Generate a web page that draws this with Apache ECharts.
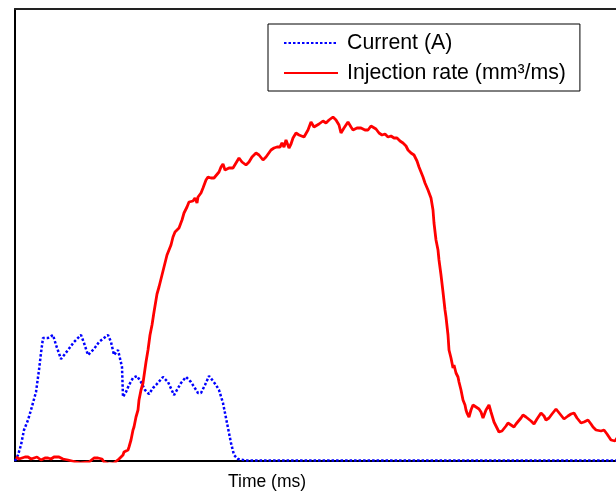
<!DOCTYPE html>
<html>
<head>
<meta charset="utf-8">
<script src="https://cdn.jsdelivr.net/npm/echarts@6/dist/echarts.min.js"></script>
<style>
  html, body { margin: 0; padding: 0; background: #fff; }
  #chart { width: 616px; height: 492px; }
</style>
</head>
<body>
<div id="chart"></div>
<script>
// Solenoid current (A) over time (ms)
const currentTime = [0, 0.03, 0.06, 0.09, 0.13, 0.16, 0.21, 0.24, 0.26, 0.28, 0.33, 0.38, 0.41, 0.46, 0.53, 0.59, 0.66, 0.69, 0.73, 0.79, 0.84, 0.89, 0.93, 0.96, 0.99, 1.03, 1.05, 1.07, 1.08, 1.11, 1.14, 1.18, 1.22, 1.26, 1.30, 1.34, 1.38, 1.41, 1.48, 1.53, 1.59, 1.66, 1.71, 1.76, 1.83, 1.86, 1.90, 1.94, 1.98, 2.01, 2.04, 2.08, 2.11, 2.13, 2.16, 2.19, 2.23, 2.31, 6.2];
const currentValues = [0, 0.6, 1.6, 3.1, 4.1, 5.1, 6.9, 9.1, 10.8, 12.3, 12.3, 12.6, 11.6, 10.2, 11.1, 11.9, 12.6, 11.8, 10.6, 11.2, 11.9, 12.3, 12.6, 11.9, 10.6, 11.1, 11.3, 9.4, 6.4, 6.9, 7.6, 8.3, 8.5, 7.9, 7.1, 6.7, 7.3, 7.6, 8.4, 7.9, 6.6, 7.8, 8.4, 7.9, 6.8, 6.8, 7.6, 8.5, 8.0, 7.6, 7.1, 5.8, 4.3, 3.3, 1.8, 0.6, 0.2, 0.05, 0.05];

// Measured injection rate (mm³/ms) over time (ms)
const rateTime = [0.01, 0.04, 0.06, 0.10, 0.13, 0.16, 0.19, 0.22, 0.24, 0.26, 0.28, 0.30, 0.33, 0.36, 0.39, 0.44, 0.48, 0.53, 0.57, 0.61, 0.66, 0.74, 0.76, 0.79, 0.81, 0.83, 0.85, 0.87, 0.89, 0.94, 0.99, 1.01, 1.04, 1.06, 1.08, 1.09, 1.11, 1.13, 1.14, 1.16, 1.18, 1.19, 1.21, 1.23, 1.24, 1.26, 1.28, 1.31, 1.33, 1.35, 1.37, 1.39, 1.42, 1.44, 1.46, 1.49, 1.52, 1.54, 1.56, 1.58, 1.60, 1.62, 1.64, 1.67, 1.69, 1.72, 1.74, 1.76, 1.78, 1.80, 1.82, 1.83, 1.86, 1.88, 1.91, 1.93, 1.96, 1.99, 2.01, 2.04, 2.06, 2.08, 2.10, 2.11, 2.14, 2.18, 2.21, 2.24, 2.27, 2.31, 2.34, 2.37, 2.41, 2.44, 2.48, 2.51, 2.53, 2.56, 2.59, 2.62, 2.65, 2.67, 2.69, 2.71, 2.74, 2.76, 2.78, 2.81, 2.84, 2.86, 2.89, 2.91, 2.93, 2.96, 2.99, 3.01, 3.04, 3.08, 3.11, 3.14, 3.18, 3.21, 3.24, 3.26, 3.29, 3.33, 3.36, 3.38, 3.42, 3.46, 3.50, 3.53, 3.56, 3.58, 3.61, 3.64, 3.67, 3.70, 3.73, 3.76, 3.79, 3.82, 3.85, 3.88, 3.91, 3.93, 3.96, 3.99, 4.02, 4.04, 4.06, 4.08, 4.10, 4.13, 4.16, 4.18, 4.19, 4.21, 4.23, 4.24, 4.26, 4.28, 4.30, 4.31, 4.33, 4.34, 4.36, 4.38, 4.39, 4.41, 4.43, 4.44, 4.46, 4.48, 4.50, 4.51, 4.52, 4.54, 4.56, 4.58, 4.61, 4.64, 4.66, 4.68, 4.71, 4.74, 4.76, 4.79, 4.82, 4.84, 4.87, 4.89, 4.91, 4.93, 4.96, 4.99, 5.01, 5.03, 5.06, 5.08, 5.11, 5.13, 5.16, 5.19, 5.22, 5.26, 5.29, 5.31, 5.34, 5.37, 5.41, 5.45, 5.49, 5.53, 5.56, 5.59, 5.62, 5.66, 5.69, 5.73, 5.76, 5.78, 5.81, 5.83, 5.86, 5.89, 5.92, 5.94, 5.96, 5.98, 6.00, 6.02];
const rateValues = [0.4, 0.2, 0.3, 0.4, 0.4, 0.2, 0.3, 0.4, 0.4, 0.1, 0.1, 0.3, 0.3, 0.2, 0.4, 0.4, 0.2, 0.1, 0, -0.1, -0.2, -0.1, -0.05, 0.3, 0.4, 0.3, 0.5, 0.2, -0.1, -0.3, -0.2, -0.1, 0.2, 0.3, 0.6, 0.9, 0.8, 1.1, 1.4, 2.1, 3.1, 3.4, 4.4, 5.1, 6.1, 7.1, 7.8, 9.9, 11.1, 12.6, 13.6, 14.9, 16.7, 17.4, 18.2, 19.4, 20.6, 21.1, 21.6, 22.4, 22.9, 23.1, 23.3, 24.1, 24.8, 25.4, 25.9, 26.1, 26.0, 26.3, 25.8, 26.4, 26.8, 27.3, 28.1, 28.4, 28.3, 28.3, 28.4, 28.9, 29.4, 29.7, 29.1, 28.9, 29.3, 29.3, 29.8, 30.3, 29.9, 29.6, 29.9, 30.4, 30.8, 30.6, 30.1, 30.4, 30.6, 31.1, 31.3, 31.4, 31.4, 31.8, 31.4, 32.1, 31.3, 31.7, 32.3, 32.8, 32.6, 32.6, 32.4, 32.3, 33.1, 33.9, 33.4, 33.6, 33.7, 34.0, 33.8, 34.1, 34.4, 34.1, 33.6, 32.8, 33.3, 33.9, 33.4, 33.1, 33.3, 33.3, 33.1, 33.1, 33.5, 33.6, 33.2, 32.8, 32.6, 32.7, 32.4, 32.5, 32.3, 32.3, 32.0, 31.8, 31.5, 31.1, 30.8, 30.6, 30.0, 29.4, 28.9, 28.4, 27.8, 27.1, 26.3, 25.1, 23.8, 22.1, 21.1, 20.1, 18.6, 16.9, 15.1, 14.4, 12.6, 11.1, 10.3, 9.3, 9.6, 8.8, 8.4, 7.9, 7.1, 6.1, 5.6, 5.1, 4.8, 4.4, 5.1, 5.6, 5.4, 5.2, 4.9, 4.3, 5.1, 5.6, 4.9, 3.9, 3.3, 2.9, 3.0, 3.1, 3.5, 3.8, 3.6, 3.4, 3.7, 3.8, 4.3, 4.6, 4.4, 4.3, 4.0, 3.7, 4.2, 4.8, 4.5, 4.1, 4.3, 4.7, 5.2, 4.7, 4.2, 4.5, 4.7, 4.8, 4.3, 3.8, 3.9, 4.1, 3.7, 3.4, 3.1, 2.9, 3.0, 3.1, 2.7, 2.4, 2.1, 1.9, 2.0, 2.3];

const seriesNames = ['Current (A)', 'Injection rate (mm³/ms)'];
const xAxisTitle = 'Time (ms)';

const pair = (xs, ys) => xs.map((x, i) => [x, ys[i]]);

const hiddenAxisParts = {
  axisTick: { show: false }, axisLabel: { show: false }, splitLine: { show: false }
};

const chart = echarts.init(document.getElementById('chart'), null, { renderer: 'canvas' });
chart.setOption({
  animation: false,
  backgroundColor: '#ffffff',
  textStyle: { fontFamily: 'Liberation Sans, Arial, sans-serif' },
  grid: { left: 15, right: 0, top: 9, bottom: 31, show: false },
  xAxis: [
    {
      type: 'value', min: 0, max: 6.01, position: 'bottom',
      axisLine: { show: true, onZero: false, lineStyle: { color: '#000', width: 2 } },
      ...hiddenAxisParts
    },
    {
      // frame line along the top of the plot
      type: 'value', min: 0, max: 6.01, position: 'top',
      axisLine: { show: true, onZero: false, lineStyle: { color: '#222', width: 2 } },
      ...hiddenAxisParts
    }
  ],
  yAxis: {
    type: 'value', min: 0, max: 45.2,
    axisLine: { show: true, onZero: false, lineStyle: { color: '#000', width: 2 } },
    ...hiddenAxisParts
  },
  legend: {
    orient: 'vertical',
    left: 268, top: 24,
    data: seriesNames,
    backgroundColor: '#fff',
    borderColor: '#000', borderWidth: 1, borderRadius: 0,
    padding: [8, 14, 7, 15],
    itemWidth: 54, itemHeight: 14, itemGap: 8,
    itemStyle: { opacity: 0, borderWidth: 0 },
    lineStyle: { opacity: 1 },
    textStyle: {
      fontSize: 21.3, color: '#000', lineHeight: 22,
      fontFamily: 'Liberation Sans, Arial, sans-serif', padding: [0, 0, 0, 4]
    }
  },
  graphic: [{
    type: 'text', left: 228, top: 473,
    style: { text: xAxisTitle, fontSize: 17.5, fill: '#000', fontFamily: 'Liberation Sans, Arial, sans-serif' }
  }],
  series: [
    {
      name: seriesNames[0], type: 'line', data: pair(currentTime, currentValues),
      showSymbol: false, symbol: 'none',
      lineStyle: { color: '#0000ff', width: 2.5, type: [2.5, 2] },
      itemStyle: { color: '#0000ff' }
    },
    {
      name: seriesNames[1], type: 'line', data: pair(rateTime, rateValues),
      showSymbol: false, symbol: 'none',
      lineStyle: { color: '#ff0000', width: 2.8 },
      itemStyle: { color: '#ff0000' }
    }
  ]
});
</script>
</body>
</html>
